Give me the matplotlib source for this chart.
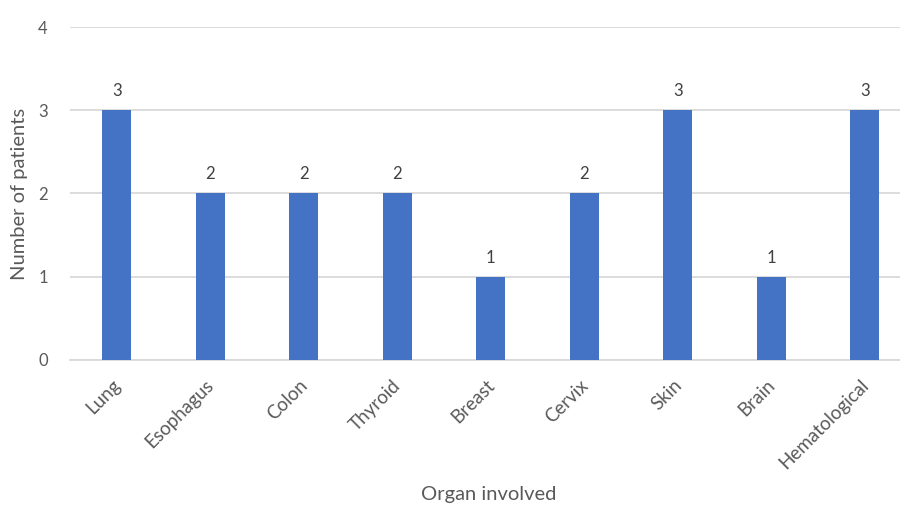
import matplotlib
matplotlib.use("Agg")
import matplotlib.pyplot as plt
from matplotlib.transforms import ScaledTranslation

organs = ["Lung", "Esophagus", "Colon", "Thyroid", "Breast", "Cervix",
          "Skin", "Brain", "Hematological"]
patients = [3, 2, 2, 2, 1, 2, 3, 1, 3]
y_ticks = [0, 1, 2, 3, 4]

plt.rcParams['font.family'] = ['Lato', 'DejaVu Sans']
text_color = "#595959"
bar_color = "#4472C4"

fig = plt.figure(figsize=(9, 5.07), dpi=100)
ax = fig.add_axes([0.0778, 0.290, 0.935, 0.6567])

x = range(len(organs))
bars = ax.bar(x, patients, width=0.31, color=bar_color, zorder=3)
for xi, v in zip(x, patients):
    ax.annotate(str(v), (xi, v), xytext=(0, 8), textcoords="offset points",
                ha="center", va="bottom", fontsize=12, color="#404040")

ax.set_xlim(-0.5, len(organs) - 0.5)
ax.set_ylim(0, 4)
ax.set_yticks(y_ticks)
ax.yaxis.grid(True, color="#D9D9D9", linewidth=1.3, zorder=0)
ax.set_axisbelow(True)
for s in ["top", "right", "left"]:
    ax.spines[s].set_visible(False)
ax.spines["bottom"].set_color("#D9D9D9")
ax.spines["bottom"].set_linewidth(1.3)
ax.tick_params(axis="y", length=0, labelsize=12, colors=text_color, pad=16)
ax.set_xticks(list(x))
ax.set_xticklabels(organs, rotation=45, ha="right", rotation_mode="anchor")
ax.tick_params(axis="x", length=0, labelsize=13.5, colors=text_color, pad=12)

# nudge rotated category labels slightly left
shift = ScaledTranslation(-5 / 100, 0, fig.dpi_scale_trans)
for lbl in ax.get_xticklabels():
    lbl.set_transform(lbl.get_transform() + shift)

fig.text(0.022, 0.29 + 0.6567 / 2, "Number of patients", rotation=90,
         ha="center", va="center", fontsize=14.5, color=text_color)
fig.text(0.543, 0.025, "Organ involved", ha="center", va="center",
         fontsize=14.5, color=text_color)

fig.savefig("out.png", dpi=100)
